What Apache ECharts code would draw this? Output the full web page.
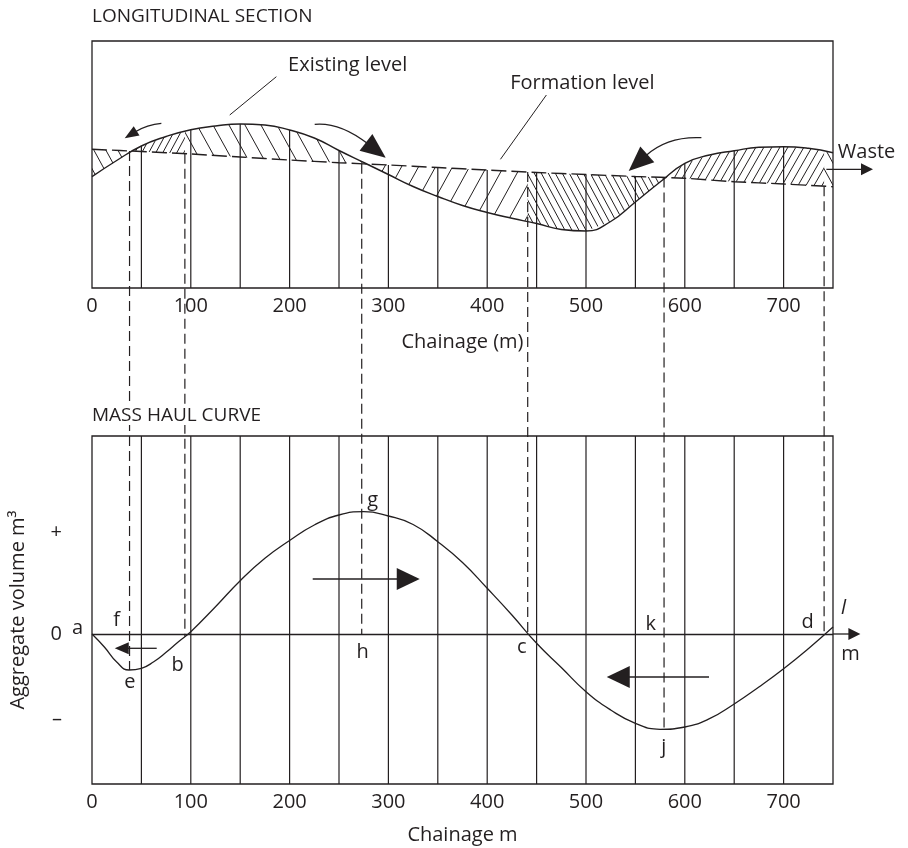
<!DOCTYPE html>
<html>
<head>
<meta charset="utf-8">
<script src="https://cdn.jsdelivr.net/npm/echarts@6/dist/echarts.min.js"></script>
<style>
html,body{margin:0;padding:0;background:#fff}
#main{width:908px;height:848px}
</style>
</head>
<body>
<div id="main"></div>
<script>
// ---- data ----
var existingX = [0,25,50,75,100,125,150,175,200,225,250,275,300,325,350,375,400,425,450,475,500,525,550,575,600,625,650,675,700,725,750];
var existingLevel = [111.3,127.5,142,151.5,158.3,162,164,163,158,150,137.5,125.5,113.5,101.5,91.5,82.5,75.5,69.7,64.5,58.5,57,66.5,86,106,124.7,133,137.3,140.7,141.3,139.7,135.3];
var formationX = [0,50,100,150,200,250,300,350,400,450,500,550,600,650,700,750];
var formationLevel = [138.7,136.5,134,131,128,125.3,123,120.5,118,115.5,113.5,111.5,109.7,106.3,104,101.3];
var massX = [0,12.5,25,37.5,50,62.5,75,87.5,100,125,150,175,200,225,250,275,300,325,350,375,400,425,450,475,500,525,550,575,600,625,650,675,700,725,750];
var massVolume = [0,-13,-28,-36,-34.3,-27.7,-18.3,-7.7,2.3,27.3,53.3,75.7,93.5,109,119,122.3,118,109.5,92.3,71.5,45.7,19,-9.3,-33.5,-57.7,-76,-89.3,-95.3,-93,-84.7,-70,-53,-34.7,-14.7,7];
var stations = [50,100,150,200,250,300,350,400,450,500,550,600,650,700];
var balanceChainages = [38,94,273,441,579,741];
var pointLetters = ['a','f','e','b','g','h','c','k','j','d','l','m'];
var yTickValues = [-85, 0, 102];

// ---- annotation layout (positions in chart units) ----
var ink = '#231f20';
var font = 'Open Sans';
var letterPos = [[-14.5,5.7],[25,13.7],[38.2,-48.3],[86.7,-31.3],[284,133.7],[274,-18.3],[435,-13.3],[565.5,9.7],[578.6,-113.3],[724.4,11.7],[760.6,25.7],[767.7,-20.3]];
var topNotes = [['Existing level',258.8,223],['Formation level',496.4,205],['Waste',784,136]];
var leaders = [[186.6,211.3,139.4,173],[459.9,193,413.4,128.7]];
// x1,y1, control x,y, tip x,y
var topArrows = [[70.2,164.7,56,163.7,33.1,149.7],[225.4,163.7,250.7,166,297.3,130.3],[616.8,150.3,582.7,152,543.2,117],[743.3,118.7,767,118.7,790.5,118.7]];
var topHeads = [[14,5.5],[25,10.5],[25,10.5],[12,6]];
var bottomArrows = [[65.5,-14.3,43,-14.3,23,-14.3],[223.4,55,277,55,331.7,55],[624.5,-43,572,-43,521,-43],[750,0,764,0,777.7,0]];
var bottomHeads = [[14,6],[23,11],[23,11],[12,6]];
var hatchStyles = [[12,1],[7,-1],[16,1],[17,-1],[7,1],[8,-1],[12,1]];

function interp(xs, ys, x) {
	for (var i = 1; i < xs.length; i++) {
		if (x <= xs[i]) {
			var t = (x - xs[i-1]) / (xs[i] - xs[i-1]);
			return ys[i-1] + t * (ys[i] - ys[i-1]);
		}
	}
	return ys[ys.length - 1];
}

function hatch(w, dir) {
	var h = Math.round(w * 1.8);
	var cv = document.createElement('canvas');
	cv.width = w; cv.height = h;
	var ctx = cv.getContext('2d');
	ctx.strokeStyle = ink; ctx.lineWidth = 1;
	for (var k = -1; k <= 1; k++) {
		ctx.beginPath();
		if (dir > 0) { ctx.moveTo(k*w - w, -h); ctx.lineTo(k*w + 2*w, 2*h); }
		else { ctx.moveTo(k*w - w, 2*h); ctx.lineTo(k*w + 2*w, -h); }
		ctx.stroke();
	}
	return cv;
}
var patterns = hatchStyles.map(function (s) { return hatch(s[0], s[1]); });

var bounds = [0].concat(balanceChainages, [750]);
var segments = [];
for (var i = 0; i < bounds.length - 1; i++) segments.push([bounds[i], bounds[i+1]]);

function arrowRender(heads) {
	return function (params, api) {
		var p0 = api.coord([api.value(0), api.value(1)]);
		var pc = api.coord([api.value(2), api.value(3)]);
		var p2 = api.coord([api.value(4), api.value(5)]);
		var dx = p2[0] - pc[0], dy = p2[1] - pc[1];
		var len = Math.sqrt(dx*dx + dy*dy), ux = dx/len, uy = dy/len;
		var L = heads[params.dataIndex][0], W = heads[params.dataIndex][1];
		var bx = p2[0] - ux*L, by = p2[1] - uy*L;
		return {type: 'group', children: [
			{type: 'bezierCurve', shape: {x1: p0[0], y1: p0[1], cpx1: pc[0], cpy1: pc[1], x2: bx + ux*2, y2: by + uy*2},
				style: {stroke: ink, fill: null, lineWidth: 1.3}},
			{type: 'polygon', shape: {points: [[p2[0], p2[1]], [bx - uy*W, by + ux*W], [bx + uy*W, by - ux*W]]},
				style: {fill: ink}}
		]};
	};
}

var chart = echarts.init(document.getElementById('main'));
var axisText = {color: ink, fontSize: 20, fontFamily: font};

var option = {
	backgroundColor: '#fff',
	animation: false,
	textStyle: {fontFamily: font, color: ink},
	title: [
		{text: 'LONGITUDINAL SECTION', left: 92, top: 7, padding: 0, textStyle: {fontSize: 19, fontWeight: 'normal', color: ink, fontFamily: font}},
		{text: 'MASS HAUL CURVE', left: 92, top: 406, padding: 0, backgroundColor: '#fff', textStyle: {fontSize: 19, fontWeight: 'normal', color: ink, fontFamily: font}}
	],
	grid: [
		{left: 92, right: 75, top: 41, height: 247, show: true, borderColor: ink, borderWidth: 1.3},
		{left: 92, right: 75, top: 436, height: 348, show: true, borderColor: ink, borderWidth: 1.3}
	],
	xAxis: [
		{gridIndex: 0, type: 'value', min: 0, max: 750, interval: 100,
			axisLine: {show: false}, axisTick: {show: false}, splitLine: {show: false},
			axisLabel: {showMaxLabel: false, margin: 8, color: ink, fontSize: 20, fontFamily: font},
			name: 'Chainage (m)', nameLocation: 'middle', nameGap: 44, nameTextStyle: axisText},
		{gridIndex: 1, type: 'value', min: 0, max: 750, interval: 100,
			axisLine: {show: false}, axisTick: {show: false}, splitLine: {show: false},
			axisLabel: {showMaxLabel: false, margin: 8, color: ink, fontSize: 20, fontFamily: font},
			name: 'Chainage m', nameLocation: 'middle', nameGap: 41, nameTextStyle: axisText}
	],
	yAxis: [
		{gridIndex: 0, type: 'value', min: 0, max: 247, show: false},
		{gridIndex: 1, type: 'value', min: -150, max: 198,
			axisLine: {show: false}, axisTick: {show: false}, splitLine: {show: false},
			axisLabel: {customValues: yTickValues, margin: 30, color: ink, fontSize: 20, fontFamily: font,
				formatter: function (v) { return v > 50 ? '+' : (v < -50 ? '–' : '0'); }},
			name: 'Aggregate volume m³', nameLocation: 'middle', nameRotate: 90, nameGap: 64, nameTextStyle: axisText}
	],
	series: [
		{type: 'custom', xAxisIndex: 0, yAxisIndex: 0, z: 1, data: segments,
			renderItem: function (params, api) {
				var a = api.value(0), b = api.value(1), pts = [];
				pts.push(api.coord([a, interp(existingX, existingLevel, a)]));
				existingX.forEach(function (x, i) { if (x > a && x < b) pts.push(api.coord([x, existingLevel[i]])); });
				pts.push(api.coord([b, interp(existingX, existingLevel, b)]));
				pts.push(api.coord([b, interp(formationX, formationLevel, b)]));
				for (var i = formationX.length - 1; i >= 0; i--) {
					if (formationX[i] > a && formationX[i] < b) pts.push(api.coord([formationX[i], formationLevel[i]]));
				}
				pts.push(api.coord([a, interp(formationX, formationLevel, a)]));
				return {type: 'polygon', shape: {points: pts},
					style: {fill: {image: patterns[params.dataIndex], repeat: 'repeat'}, stroke: null}};
			}},
		{type: 'custom', xAxisIndex: 0, yAxisIndex: 0, z: 2, data: stations.map(function (c) { return [c]; }),
			renderItem: function (params, api) {
				var c = api.value(0);
				var top = Math.max(interp(existingX, existingLevel, c), interp(formationX, formationLevel, c));
				var p0 = api.coord([c, 0]), p1 = api.coord([c, top]);
				return {type: 'line', shape: {x1: p0[0], y1: p0[1], x2: p1[0], y2: p1[1]}, style: {stroke: ink, lineWidth: 1.2}};
			}},
		{type: 'line', name: 'Existing level', xAxisIndex: 0, yAxisIndex: 0, z: 3, smooth: 0.5, showSymbol: false,
			lineStyle: {color: ink, width: 1.4},
			data: existingX.map(function (x, i) { return [x, existingLevel[i]]; })},
		{type: 'line', name: 'Formation level', xAxisIndex: 0, yAxisIndex: 0, z: 3, smooth: 0.3, showSymbol: false,
			lineStyle: {color: ink, width: 1.4, type: [15, 5]},
			data: formationX.map(function (x, i) { return [x, formationLevel[i]]; })},
		{type: 'custom', xAxisIndex: 0, yAxisIndex: 0, z: 4, data: topArrows,
			encode: {x: [0, 2, 4], y: [1, 3, 5]}, renderItem: arrowRender(topHeads)},
		{type: 'custom', xAxisIndex: 0, yAxisIndex: 0, z: 4, data: leaders,
			encode: {x: [0, 2], y: [1, 3]},
			renderItem: function (params, api) {
				var p0 = api.coord([api.value(0), api.value(1)]), p1 = api.coord([api.value(2), api.value(3)]);
				return {type: 'line', shape: {x1: p0[0], y1: p0[1], x2: p1[0], y2: p1[1]}, style: {stroke: ink, lineWidth: 1}};
			}},
		{type: 'custom', xAxisIndex: 0, yAxisIndex: 0, z: 5, data: topNotes.map(function (n) { return [n[1], n[2]]; }),
			renderItem: function (params, api) {
				var p = api.coord([api.value(0), api.value(1)]);
				return {type: 'text', x: p[0], y: p[1],
					style: {text: topNotes[params.dataIndex][0], fill: ink, fontSize: 20, fontFamily: font, align: 'center', verticalAlign: 'middle'}};
			}},
		{type: 'custom', xAxisIndex: 1, yAxisIndex: 1, z: 1, data: stations.map(function (c) { return [c]; }),
			renderItem: function (params, api) {
				var c = api.value(0);
				var p0 = api.coord([c, -150]), p1 = api.coord([c, 198]);
				return {type: 'line', shape: {x1: p0[0], y1: p0[1], x2: p1[0], y2: p1[1]}, style: {stroke: ink, lineWidth: 1.2}};
			}},
		{type: 'line', name: 'Mass haul', xAxisIndex: 1, yAxisIndex: 1, z: 3, smooth: 0.5, showSymbol: false,
			lineStyle: {color: ink, width: 1.3},
			data: massX.map(function (x, i) { return [x, massVolume[i]]; }),
			markLine: {silent: true, symbol: ['none', 'none'], label: {show: false},
				lineStyle: {color: ink, width: 1.3, type: 'solid'}, data: [{yAxis: 0}]}},
		{type: 'custom', xAxisIndex: 1, yAxisIndex: 1, z: 4, data: bottomArrows,
			encode: {x: [0, 2, 4], y: [1, 3, 5]}, renderItem: arrowRender(bottomHeads)},
		{type: 'custom', xAxisIndex: 1, yAxisIndex: 1, z: 5, data: letterPos,
			renderItem: function (params, api) {
				var p = api.coord([api.value(0), api.value(1)]);
				var t = pointLetters[params.dataIndex];
				return {type: 'text', x: p[0], y: p[1],
					style: {text: t, fill: ink, fontSize: 20, fontFamily: font, fontStyle: t === 'l' ? 'italic' : 'normal',
						align: 'center', verticalAlign: 'middle'}};
			}}
	]
};
chart.setOption(option);

// dashed balance lines run from the section down into the mass haul diagram
var connectors = balanceChainages.map(function (c) {
	var p0 = chart.convertToPixel({gridIndex: 0}, [c, interp(formationX, formationLevel, c)]);
	var p1 = chart.convertToPixel({gridIndex: 1}, [c, Math.min(0, interp(massX, massVolume, c))]);
	return {type: 'line', z: 1, shape: {x1: p0[0], y1: p0[1], x2: p1[0], y2: p1[1]},
		style: {stroke: ink, lineWidth: 1.2, lineDash: [10, 5]}};
});
chart.setOption({graphic: connectors});
</script>
</body>
</html>
